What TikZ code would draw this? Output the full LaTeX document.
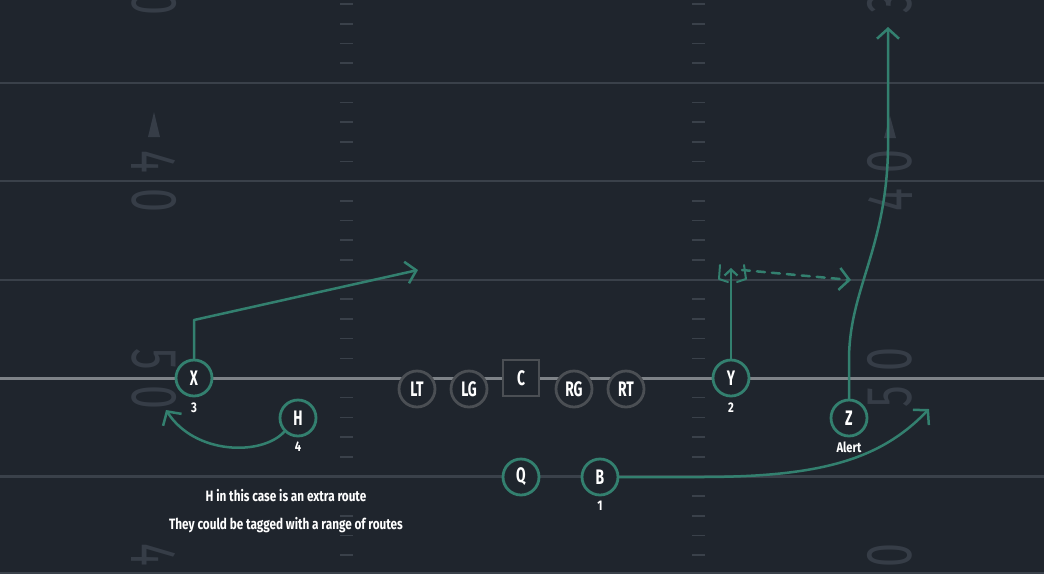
\documentclass[tikz,border=0pt]{standalone}
\usepackage{fontspec}
\setmainfont{Fira Sans}
\usetikzlibrary{arrows.meta}
\definecolor{bg}{HTML}{1F252D}
\definecolor{yard}{HTML}{3A414A}
\definecolor{numc}{HTML}{363D47}
\definecolor{losc}{HTML}{7E8388}
\definecolor{routec}{HTML}{33806F}
\definecolor{olinec}{HTML}{4B4F54}
\newcommand\cnd[1]{\scalebox{0.66}[1]{#1}}
\newcommand\cns[1]{\scalebox{0.8}[1]{#1}}
\newcommand\cnt[1]{\scalebox{0.785}[1]{#1}}
\newcommand\dig[1]{\scalebox{0.66}[1]{#1}}
\begin{document}
\begin{tikzpicture}[x=1pt,y=-1pt,
  pl/.style={circle, draw=routec, fill=bg, line width=2.8pt, minimum size=36pt, inner sep=0pt, text=white, font=\fontsize{21}{21}\selectfont\bfseries},
  ol/.style={pl, draw=olinec},
  sq/.style={rectangle, draw=olinec, fill=bg, line width=2.6pt, minimum size=36pt, inner sep=0pt, text=white, font=\fontsize{21}{21}\selectfont\bfseries},
  sub/.style={text=white, inner sep=0pt, font=\fontsize{14}{14}\selectfont\bfseries},
  note/.style={text=white, inner sep=0pt, font=\fontsize{15}{15}\selectfont\bfseries},
  numl/.style={text=numc, inner sep=0pt, rotate=-90, font=\fontsize{65}{65}\selectfont},
  numr/.style={text=numc, inner sep=0pt, rotate=90, font=\fontsize{65}{65}\selectfont},
  rt/.style={draw=routec, line width=2.5pt, line cap=round, line join=round},
  barb/.style={-{Straight Barb[length=10pt,width=22pt,line width=2.5pt]}},
  sbarb/.style={-{Straight Barb[length=6pt,width=13pt,line width=2.2pt]}}
]
\fill[bg] (0,0) rectangle (1044,574);
\useasboundingbox (0,0) rectangle (1044,574);
% yard lines
\foreach \y in {82.8,181.2,279.6,476.4,573} \draw[yard,line width=2.2pt] (0,\y) -- (1044,\y);
% hash marks
\foreach \k in {-19,...,9}{
  \pgfmathtruncatemacro\m{mod(abs(\k),5)}
  \ifnum\m=0\else
    \pgfmathsetmacro\yy{378+19.68*\k}
    \draw[yard,line width=1.6pt] (340,\yy) -- (353,\yy);
    \draw[yard,line width=1.6pt] (692,\yy) -- (705,\yy);
  \fi
}
% field numbers, left side
\node[numl] (l30b) at (154,3) {\dig{0}};
\fill[numc] (154,112) -- (160,137) -- (148,137) -- cycle;
\node[numl] (l40a) at (154,162) {\dig{4}};
\node[numl] (l40b) at (154,200) {\dig{0}};
\node[numl] (l50a) at (154,359) {\dig{5}};
\node[numl] (l50b) at (154,397) {\dig{0}};
\node[numl] (l40c) at (154,555) {\dig{4}};
% field numbers, right side
\node[numr] (r30a) at (890,3) {\dig{3}};
\fill[numc] (890,116) -- (896,138) -- (884,138) -- cycle;
\node[numr] (r40b) at (890,162) {\dig{0}};
\node[numr] (r40a) at (890,200) {\dig{4}};
\node[numr] (r50b) at (890,360) {\dig{0}};
\node[numr] (r50a) at (890,397) {\dig{5}};
\node[numr] (r40d) at (890,556) {\dig{0}};
% line of scrimmage
\draw[losc,line width=3pt] (0,378) -- (1044,378);
% players
\node[pl] (X) at (194,378) {\cnd{X}};
\node[pl] (H) at (298,418) {\cnd{H}};
\node[ol] (LT) at (417,389) {\cnd{LT}};
\node[ol] (LG) at (469,389) {\cnd{LG}};
\node[sq] (C) at (521,378) {\cnd{C}};
\node[ol] (RG) at (574,389) {\cnd{RG}};
\node[ol] (RT) at (626,389) {\cnd{RT}};
\node[pl] (Y) at (731,378) {\cnd{Y}};
\node[pl] (Z) at (849,418) {\cnd{Z}};
\node[pl] (Q) at (521,477) {\cnd{Q}};
\node[pl] (B) at (600,477) {\cnd{B}};
% sub labels
\node[sub] (xl) at (194,408) {\cns{3}};
\node[sub] (hl) at (298,447) {\cns{4}};
\node[sub] (yl) at (731,408) {\cns{2}};
\node[sub] (zl) at (849,447) {\cns{Alert}};
\node[sub] (bl) at (600,506) {\cns{1}};
% notes
\node[note] (n1) at (286,496) {\cnt{H in this case is an extra route}};
\node[note] (n2) at (286,525) {\cnt{They could be tagged with a range of routes}};
% route end points
\coordinate (xk) at (194,320);
\coordinate (xt) at (418,270);
\coordinate (ht) at (166,410);
\coordinate (yt) at (731,268);
\coordinate (yd) at (742,270);
\coordinate (dt) at (851,280);
\coordinate (zk) at (849,360);
\coordinate (zs) at (888,150);
\coordinate (zt) at (888,27);
\coordinate (bk) at (700,477);
\coordinate (bt) at (929,409);
% routes
\draw[rt,barb] (X.north) -- (xk) -- (xt);
\draw[rt,barb] (H.south west) .. controls (262,456) and (195,455) .. (ht);
\draw[rt,sbarb] (Y.north) -- (yt);
\draw[rt,line width=2pt] (720,265) -- (719,279) -- (728,282);
\draw[rt,line width=2pt] (744,265) -- (746,279) -- (737,282);
\draw[rt,barb,dash pattern=on 8pt off 7pt] (yd) -- (dt);
\draw[rt,barb] (Z.north) -- (zk) .. controls (849,290) and (886,250) .. (zs) -- (zt);
\draw[rt,barb] (B.east) -- (bk) .. controls (820,477) and (880,460) .. (bt);
\end{tikzpicture}
\end{document}
